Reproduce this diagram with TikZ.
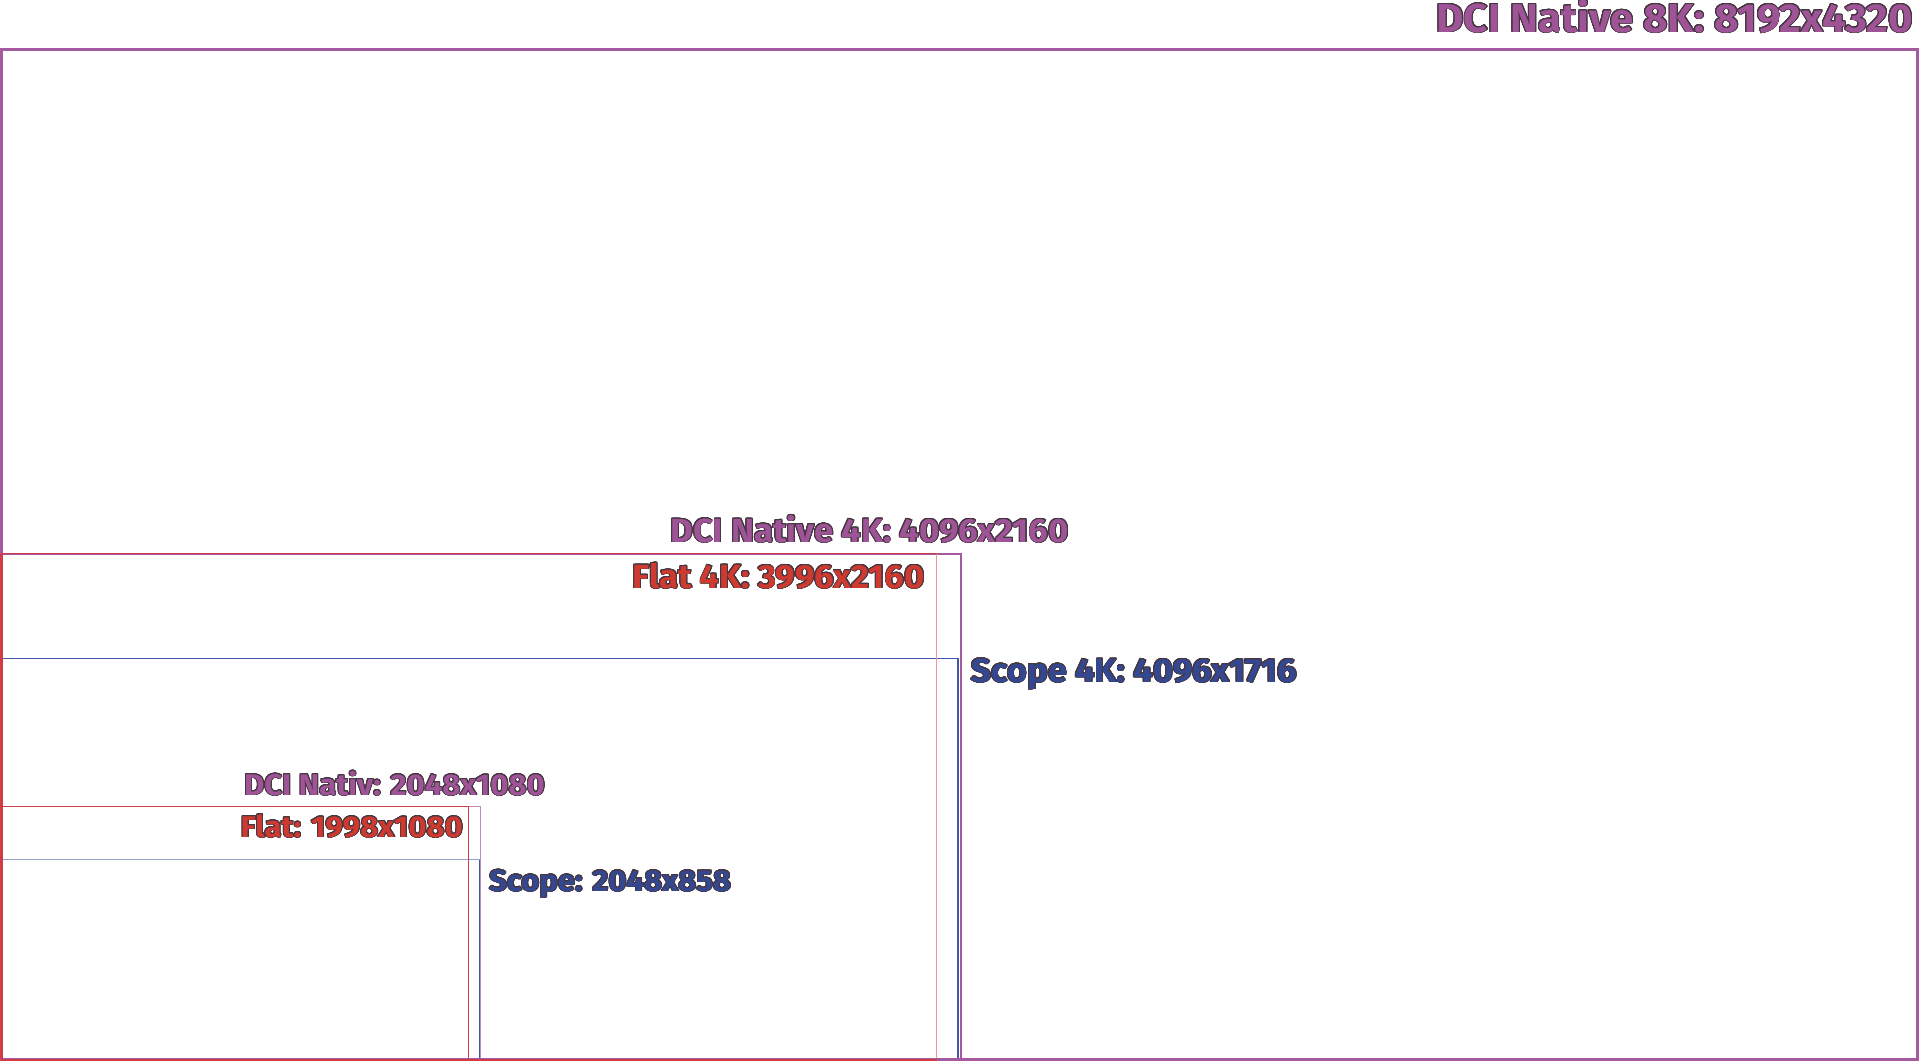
\documentclass[tikz,border=0pt]{standalone}
\usepackage{fontspec}
\setmainfont{Fira Sans}
\newfontfamily\labfont{Fira Sans}[FakeStretch=1.04]
\usepackage{contour}
\contourlength{0.9pt}
\contournumber{24}
\definecolor{dcip}{RGB}{158,84,150}
\definecolor{flatr}{RGB}{206,58,48}
\definecolor{scopeb}{RGB}{52,72,145}
\definecolor{edge}{RGB}{70,55,65}
\definecolor{dciline}{RGB}{165,90,160}
\definecolor{flatline}{RGB}{210,60,70}
\definecolor{flatlight}{RGB}{235,150,155}
\definecolor{scopeline}{RGB}{70,85,165}
\definecolor{scopelight}{RGB}{150,160,205}
\tikzset{
  lbl/.style={inner sep=0pt, font=\labfont\bfseries\fontsize{33.5}{40}\selectfont},
  lblbig/.style={inner sep=0pt, font=\labfont\bfseries\fontsize{40.5}{48}\selectfont},
  lblsmall/.style={inner sep=0pt, font=\labfont\bfseries\fontsize{30}{36}\selectfont},
}
\newcommand{\dcitxt}[1]{\contour{edge}{\textcolor{dcip}{#1}}}
\newcommand{\flattxt}[1]{\contour{edge}{\textcolor{flatr}{#1}}}
\newcommand{\scopetxt}[1]{\contour{edge}{\textcolor{scopeb}{#1}}}
\begin{document}
\begin{tikzpicture}[x=1bp,y=-1bp]
\useasboundingbox[fill=white] (0,0) rectangle (1920,1062);
% Scope 4K (top and right)
\draw[scopeline, line width=1.6bp] (1.5,658.5) -- (958,658.5) -- (958,1059);
% Scope 2K
\draw[scopelight, line width=1bp] (1.5,859.5) -- (480.5,859.5);
\draw[scopeline, line width=0.8bp] (479.5,859.5) -- (479.5,1059);
% 8K
\draw[dciline, line width=3bp] (1.5,49) rectangle (1917.5,1059);
% DCI 4K
\draw[dciline, line width=2bp] (1.5,553.5) rectangle (961,1059);
% Flat 4K
\draw[flatlight, line width=1bp] (936.5,553.5) -- (936.5,1058);
\draw[flatline, line width=1.5bp] (936.5,1060) -- (1.5,1060) -- (1.5,553.5) -- (936.5,553.5);
% DCI 2K
\draw[dciline!70, line width=1bp] (1.5,806.5) -- (480.5,806.5) -- (480.5,1058);
% Flat 2K
\draw[flatline, line width=1bp] (1.5,806.5) -- (468,806.5) -- (468,1058);
\draw[flatline, line width=2.5bp] (1.5,553.5) -- (1.5,1059);

\node[lblbig, anchor=base east] (t8k) at (1913,32) {\dcitxt{DCI Native 8K: 8192x4320}};
\node[lbl, anchor=base east] (t4k) at (1069,542) {\dcitxt{DCI Native 4K: 4096x2160}};
\node[lbl, anchor=base east] (tf4k) at (925,588) {\flattxt{Flat 4K: 3996x2160}};
\node[lbl, anchor=base west] (ts4k) at (971,682) {\scopetxt{Scope 4K: 4096x1716}};
\node[lblsmall, anchor=base east] (t2k) at (545,795) {\dcitxt{DCI Nativ: 2048x1080}};
\node[lblsmall, anchor=base east] (tf2k) at (463,837) {\flattxt{Flat: 1998x1080}};
\node[lblsmall, anchor=base west] (ts2k) at (489,891) {\scopetxt{Scope: 2048x858}};
\end{tikzpicture}
\end{document}
